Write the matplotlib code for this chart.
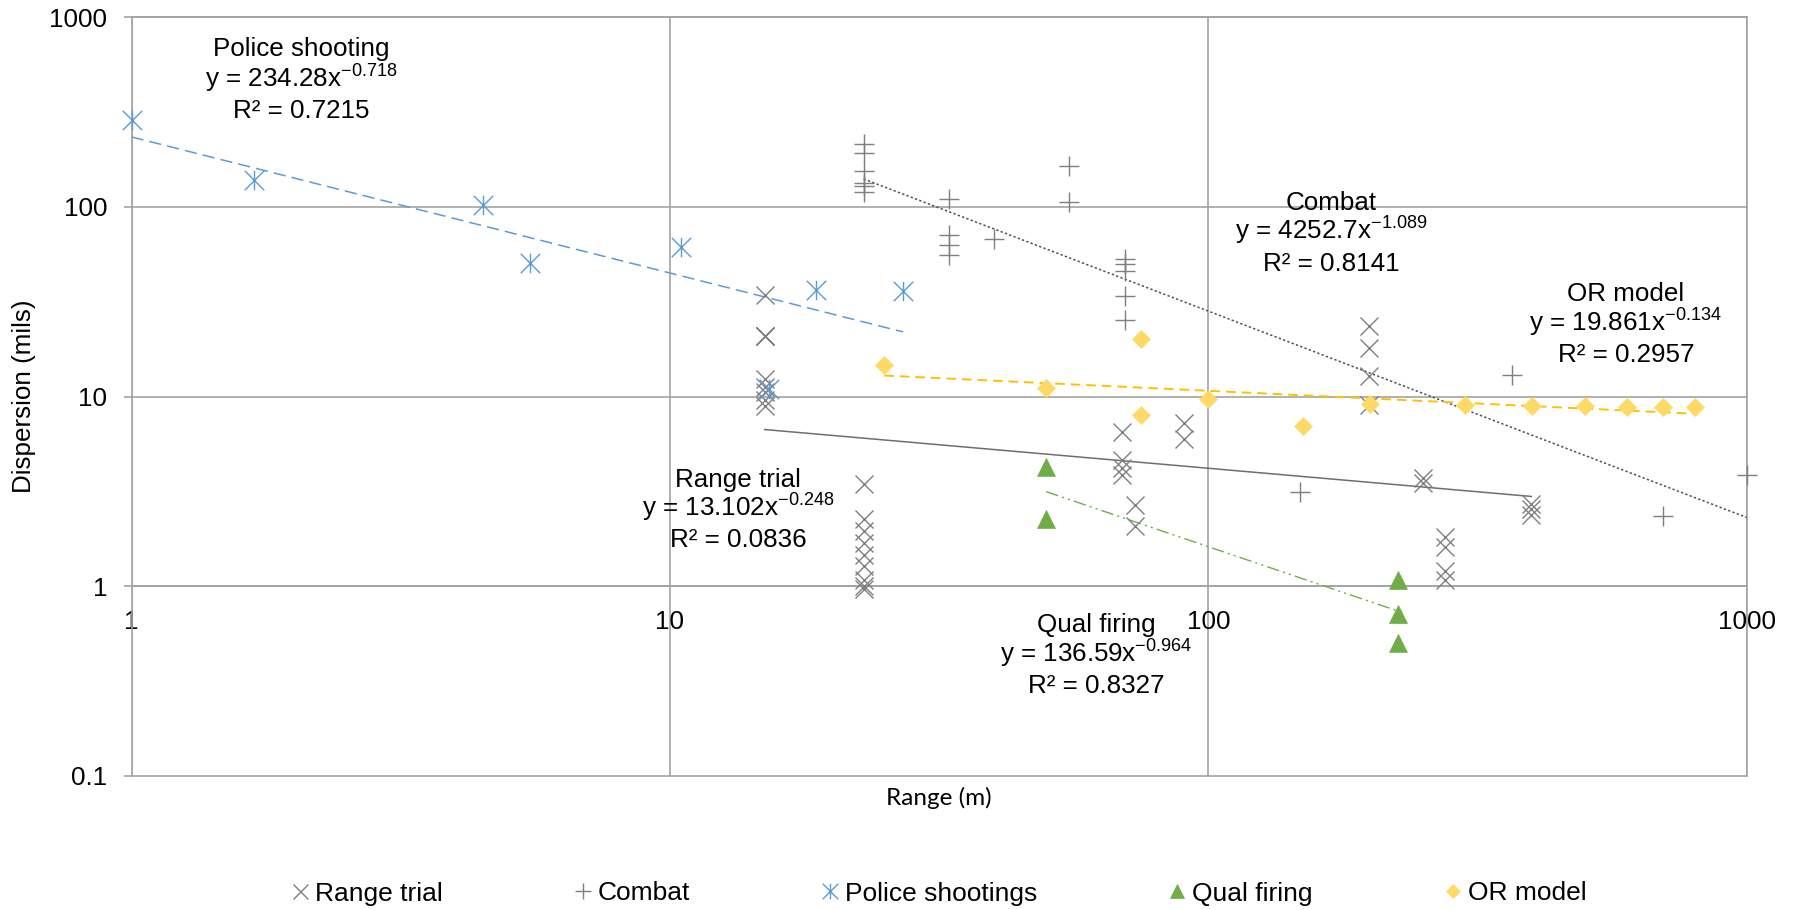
import numpy as np
import matplotlib
matplotlib.use("Agg")
import matplotlib.pyplot as plt
from matplotlib.path import Path
from matplotlib.ticker import FixedLocator, FixedFormatter, NullLocator

# ---------------- data ----------------
range_trial_x = [15, 15, 15, 15, 15, 15, 15, 15, 15,
                 22.9, 22.9, 22.9, 22.9, 22.9, 22.9, 22.9, 22.9, 22.9,
                 69.2, 69.2, 69.2, 69.2, 73.2, 73.2, 90, 90,
                 199, 199, 199, 199, 250, 250, 275, 275, 275, 275,
                 398, 398, 398]
range_trial_y = [34.3, 20.8, 20.8, 20.8, 12.4, 11.2, 10.5, 9.6, 8.9,
                 3.47, 2.26, 1.96, 1.68, 1.45, 1.28, 1.07, 1.0, 0.97,
                 6.5, 4.6, 4.22, 3.83, 2.66, 2.08, 7.25, 5.95,
                 23.5, 18.0, 12.8, 9.0, 3.7, 3.5, 1.82, 1.6, 1.2, 1.08,
                 2.72, 2.55, 2.38]

combat_x = [22.9, 22.9, 22.9, 22.9, 22.9, 22.9, 33, 33, 33, 33, 40, 55, 55,
            70, 70, 70, 70, 70, 148, 366, 700, 1000]
combat_y = [216, 193, 155, 134, 129, 120, 110, 71, 63, 56, 68, 165, 106,
            53, 50, 46, 34, 25.4, 3.15, 13.0, 2.35, 3.85]

police_x = [1, 1.69, 4.5, 5.5, 10.5, 15.3, 18.7, 27.1]
police_y = [288, 139, 103, 50.7, 61.5, 11.0, 36.6, 36.2]

qual_x = [50, 50, 225, 225, 225]
qual_y = [4.25, 2.27, 1.08, 0.715, 0.498]

or_x = [25, 50, 75, 75, 100, 150, 200, 300, 400, 500, 600, 700, 800]
or_y = [14.7, 11.1, 20.0, 8.0, 9.7, 7.0, 9.15, 9.05, 8.93, 8.9, 8.85, 8.83, 8.78]

# power-law trendlines shown on the chart: (coefficient, exponent, R^2)
police_fit = (234.28, -0.718, 0.7215)
range_fit = (13.102, -0.248, 0.0836)
combat_fit = (4252.7, -1.089, 0.8141)
qual_fit = (136.59, -0.964, 0.8327)
or_fit = (19.861, -0.134, 0.2957)

series_names = ["Range trial", "Combat", "Police shootings", "Qual firing", "OR model"]
fit_titles = ["Range trial", "Combat", "Police shooting", "Qual firing", "OR model"]

y_ticks = [0.1, 1, 10, 100, 1000]
y_tick_labels = ["0.1", "1", "10", "100", "1000"]
x_ticks = [1, 10, 100, 1000]
x_tick_labels = ["1", "10", "100", "1000"]
x_label = "Range (m)"
y_label = "Dispersion (mils)"

# ---------------- style ----------------
W, H = 1796, 910
plt.rcParams["font.family"] = ["Liberation Sans", "DejaVu Sans"]
plt.rcParams["mathtext.fontset"] = "custom"
plt.rcParams["mathtext.rm"] = "Liberation Sans"
plt.rcParams["mathtext.it"] = "Liberation Sans:italic"
plt.rcParams["mathtext.bf"] = "Liberation Sans:bold"
FS = 18.7
GRID = "#A3A3A3"
GRAY = "#7F7F7F"
BLUE = "#5B9BD5"
GREEN = "#70AD47"
GOLD = "#FFD966"
ORANGE = "#FFC000"

fig = plt.figure(figsize=(W / 100, H / 100), dpi=100)
ax = fig.add_axes([131.5 / W, 1 - 775.5 / H, (1746.7 - 131.5) / W, (775.5 - 17.5) / H])
ax.set_xscale("log")
ax.set_yscale("log")
ax.set_xlim(1, 1000)
ax.set_ylim(0.1, 1000)

# asterisk (X with vertical bar) marker like Excel's "star"
star = Path([(-1, -1), (1, 1), (-1, 1), (1, -1), (0, -1), (0, 1)],
            [Path.MOVETO, Path.LINETO, Path.MOVETO, Path.LINETO, Path.MOVETO, Path.LINETO])

mew = 1.0
h_range, = ax.plot(range_trial_x, range_trial_y, ls="none", marker="x", ms=13.5,
                   mec=GRAY, mew=mew, zorder=4, clip_on=False)
h_combat, = ax.plot(combat_x, combat_y, ls="none", marker="+", ms=14,
                    mec=GRAY, mew=mew, zorder=4, clip_on=False)
h_police, = ax.plot(police_x, police_y, ls="none", marker=star, ms=14,
                    mec=BLUE, mfc="none", mew=mew, zorder=4, clip_on=False)
h_qual, = ax.plot(qual_x, qual_y, ls="none", marker="^", ms=13,
                  mfc=GREEN, mec=GREEN, mew=0.5, zorder=4, clip_on=False)
h_or, = ax.plot(or_x, or_y, ls="none", marker="D", ms=8.8,
                mfc=GOLD, mec=GOLD, mew=0.5, zorder=4, clip_on=False)


def trend(xs, fit, **kw):
    xx = np.geomspace(min(xs), max(xs), 200)
    ax.plot(xx, fit[0] * xx ** fit[1], zorder=3, **kw)


trend(police_x, police_fit, color=BLUE, lw=1.1, ls=(0, (8, 4)))
trend(range_trial_x, range_fit, color="#6E6E6E", lw=1.1, ls="-")
trend(combat_x, combat_fit, color="#505050", lw=1.1, ls=(0, (1.5, 1.5)))
trend(qual_x, qual_fit, color=GREEN, lw=1.0, ls=(0, (9, 3, 1.5, 3, 1.5, 3)))
trend(or_x, or_fit, color=ORANGE, lw=1.4, ls=(0, (5, 3)))

# axes / grid
ax.xaxis.set_major_locator(FixedLocator(x_ticks))
ax.xaxis.set_major_formatter(FixedFormatter(x_tick_labels))
ax.yaxis.set_major_locator(FixedLocator(y_ticks))
ax.yaxis.set_major_formatter(FixedFormatter(y_tick_labels))
ax.xaxis.set_minor_locator(NullLocator())
ax.yaxis.set_minor_locator(NullLocator())
ax.grid(True, which="major", color=GRID, lw=1.2, zorder=1)
for gl in ax.get_ygridlines() + ax.get_xgridlines():
    gl.set_clip_on(False)
for s in ax.spines.values():
    s.set_color(GRID)
    s.set_linewidth(1.2)
ax.spines["bottom"].set_position(("data", 1))
ax.tick_params(axis="y", direction="out", length=5.8, width=1.2, color=GRID,
               pad=11.5, labelsize=FS, labelcolor="black")
ax.tick_params(axis="x", direction="out", length=0, width=1.2, color=GRID,
               pad=17.5, labelsize=FS, labelcolor="black")
ax.set_axisbelow(True)

# axis titles
fig.text(939 / W, 1 - 798 / H, x_label, ha="center", va="center",
         fontsize=17.5, family=["Lato", "DejaVu Sans"])
fig.text(24.5 / W, 1 - 396 / H, y_label, ha="center", va="center",
         rotation=90, fontsize=FS)

# trendline annotations (center x, baselines of three lines) in pixels
ann_pos = [
    (738.4, (486.7, 516.7, 546.7)),   # Range trial
    (1331.0, (210.0, 240.0, 270.7)),  # Combat
    (301.7, (56.0, 87.3, 118.3)),     # Police
    (1096.4, (631.7, 662.5, 692.7)),  # Qual
    (1625.9, (300.7, 331.7, 361.7)),  # OR
]
fits = [range_fit, combat_fit, police_fit, qual_fit, or_fit]
for title, fit, (cx, ys) in zip(fit_titles, fits, ann_pos):
    lines = [title,
             "y = %sx$^{\\mathregular{%s}}$" % (repr(fit[0]), repr(fit[1])),
             "R² = %s" % repr(fit[2])]
    for txt, yy in zip(lines, ys):
        fig.text(cx / W, 1 - yy / H, txt, ha="center", va="baseline", fontsize=FS)

# legend
fig.legend([h_range, h_combat, h_police, h_qual, h_or], series_names,
           loc="center", bbox_to_anchor=(938.5 / W, 1 - 893.5 / H), ncol=5,
           frameon=False, fontsize=19, handlelength=0.7, handletextpad=0.22,
           columnspacing=4.95, markerscale=0.8, borderaxespad=0, numpoints=1)

fig.savefig("out.png", dpi=100)
